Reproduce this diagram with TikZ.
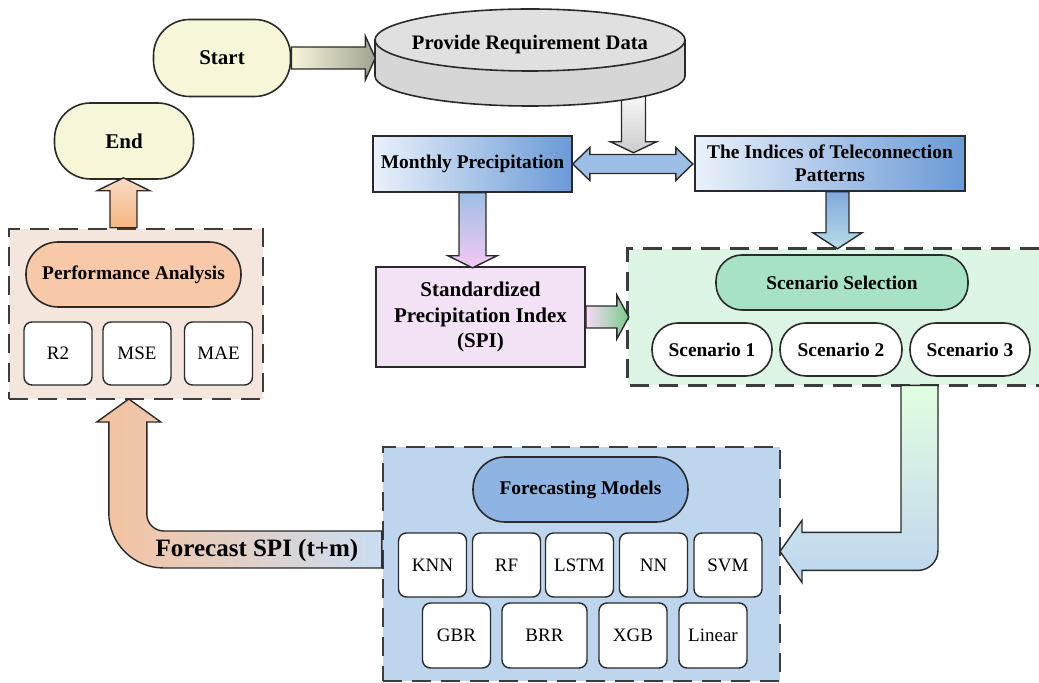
\documentclass[tikz,border=0pt]{standalone}
\usepackage{fontspec}
\setmainfont{Liberation Serif}
\usetikzlibrary{calc}

\definecolor{edge}{HTML}{2A2A2A}
\definecolor{dashgray}{HTML}{3C3C3C}
\definecolor{termfill}{HTML}{F8F6D8}
\definecolor{startarr}{HTML}{A2A292}
\definecolor{monthlight}{HTML}{EAF1FA}
\definecolor{monthdark}{HTML}{6A9AD6}
\definecolor{arrblue}{HTML}{9DBFE6}
\definecolor{telearr}{HTML}{B8DCE8}
\definecolor{spifill}{HTML}{F3E1F5}
\definecolor{spipink}{HTML}{F5C8F2}
\definecolor{scenbg}{HTML}{DDF5E4}
\definecolor{selfill}{HTML}{A8E2C4}
\definecolor{arrgreen}{HTML}{7ACC8C}
\definecolor{forebg}{HTML}{BED5EE}
\definecolor{fmfill}{HTML}{8DB4E2}
\definecolor{perfbg}{HTML}{F4E6DC}
\definecolor{perffill}{HTML}{F8C9A8}
\definecolor{peach}{HTML}{F6C29E}
\definecolor{orangearr}{HTML}{F6B680}

\begin{document}
\begin{tikzpicture}[x=0.5pt,y=-0.5pt,
  bold/.style={font=\bfseries\fontsize{9.7}{11.5}\selectfont},
  term/.style={draw=edge,line width=0.8pt,fill=termfill,rounded corners=18pt,
    minimum width=68.5pt,minimum height=38.5pt,font=\bfseries\fontsize{10.5}{12}\selectfont},
  databox/.style={draw=edge,line width=0.8pt,bold,align=center,inner sep=2pt,
    left color=monthlight,right color=monthdark},
  pill/.style={draw=edge,line width=0.8pt,bold,rounded corners=13pt},
  small/.style={draw=edge,line width=0.7pt,fill=white,rounded corners=4pt,
    minimum width=34pt,minimum height=32pt,font=\fontsize{9.5}{11}\selectfont},
  group/.style={draw=dashgray,line width=1.2pt,dash pattern=on 9.5pt off 5pt},
  blk/.style={draw=edge,line width=0.7pt}]
\useasboundingbox (0,0) rectangle (1039,683);

% groups
\node (pbox) [group,fill=perfbg,minimum width=127pt,minimum height=85pt] at (136,314) {};
\node (fbox) [group,fill=forebg,minimum width=198.5pt,minimum height=117pt] at (581.5,564) {};
\node (sbox) [fill=scenbg,minimum width=205.5pt,minimum height=68pt,inner sep=0pt] at (833.5,317) {};
\draw [group] (sbox.north east) -- (sbox.north west) -- (sbox.south west) -- (sbox.south east);

% start, end, data
\node (start) [term] at (222,58) {Start};
\node (end) [term,minimum width=69.5pt,minimum height=38pt] at (124,141) {End};

\node (month) [databox,minimum width=99.5pt,minimum height=28pt] at (472.5,164) {Monthly Precipitation};
\node (tele) [databox,minimum width=135pt,minimum height=27.5pt] at (830,163.5) {The Indices of Teleconnection\\Patterns};
\coordinate (mid) at ($(month.east)!0.5!(tele.west)$);

\draw [blk,top color=gray!4,bottom color=gray!40] ($(mid)+(-12,-72)$) -- ++(0,50) -- ++(-11,0) -- ++(23,11) -- ++(23,-11) -- ++(-11,0) -- ++(0,-50) -- cycle;

\fill [gray!32] (375,40) -- (375,76) arc[start angle=180,end angle=360,x radius=77.5pt,y radius=15pt] -- (685,40) -- cycle;
\draw [edge,line width=0.8pt] (375,40) -- (375,76) arc[start angle=180,end angle=360,x radius=77.5pt,y radius=15pt] -- (685,40);
\draw [edge,line width=0.8pt,fill=gray!24] (530,40) ellipse[x radius=77.5pt,y radius=15.5pt];
\node (data) [font=\bfseries\fontsize{10.3}{12}\selectfont] at (530,45) {Provide Requirement Data};

\draw [blk,left color=termfill,right color=startarr] ([yshift=5.5pt]start.east) -- ++(74,0) -- ++(0,-11) -- ++(10,22) -- ++(-10,22) -- ++(0,-11) -- ++(-74,0) -- cycle;

\draw [blk,left color=arrblue,middle color=white!85!arrblue,right color=arrblue] (month.east) -- ++(17,-16.5) -- ++(0,7) -- ++(86,0) -- ++(0,-7) -- ++(17,16.5) -- ++(-17,16.5) -- ++(0,-7) -- ++(-86,0) -- ++(0,7) -- cycle;

% SPI
\node (spi) [draw=edge,line width=0.8pt,fill=spifill,align=center,minimum width=104.5pt,minimum height=50pt,
  font=\bfseries\fontsize{10.5}{12.75}\selectfont] at (480.5,317) {Standardized\\Precipitation Index\\(SPI)};

\draw [blk,top color=arrblue,bottom color=spipink] ([xshift=-6.75pt]month.south) -- ++(0,63) -- ++(-11,0) -- ++(24.5,12) -- ++(24.5,-12) -- ++(-11,0) -- ++(0,-63) -- cycle;
\draw [blk,top color=monthdark!85,bottom color=telearr] ([xshift=-2pt]tele.south) -- ++(0,41) -- ++(-13,0) -- ++(24.5,16) -- ++(24.5,-16) -- ++(-13,0) -- ++(0,-41) -- cycle;
\draw [blk,left color=spipink!70,right color=arrgreen] ([yshift=5.5pt]spi.east) -- ++(31,0) -- ++(0,-11) -- ++(12,22) -- ++(-12,22) -- ++(0,-11) -- ++(-31,0) -- cycle;

% scenarios
\node (sel) [pill,fill=selfill,minimum width=126pt,minimum height=27.5pt] at (842,282.5) {Scenario Selection};
\node (sc1) [pill,fill=white,minimum width=60pt,minimum height=26.5pt] at (712,349.5) {Scenario 1};
\node (sc2) [pill,fill=white,minimum width=61pt,minimum height=26.5pt] at (841,349.5) {Scenario 2};
\node (sc3) [pill,fill=white,minimum width=60pt,minimum height=26.5pt] at (970,349.5) {Scenario 3};

% performance
\node (perf) [pill,fill=perffill,rounded corners=16pt,minimum width=107.5pt,minimum height=32.5pt] at (133.5,274.5) {Performance Analysis};
\node (r2) [small,minimum height=31.5pt] at (58,353.5) {R2};
\node (mse) [small,minimum height=31.5pt] at (137,353.5) {MSE};
\node (mae) [small,minimum height=31.5pt] at (218.5,353.5) {MAE};

% models
\node (fm) [pill,fill=fmfill,rounded corners=16pt,minimum width=107.5pt,minimum height=32.5pt] at (580.5,489.5) {Forecasting Models};
\node (knn) [small] at (432.5,565) {KNN};
\node (rf) [small] at (506.5,565) {RF};
\node (lstm) [small] at (579.5,565) {LSTM};
\node (nn) [small] at (653.5,565) {NN};
\node (svm) [small] at (728,565) {SVM};
\node (gbr) [small,minimum height=32.5pt] at (456.5,635.5) {GBR};
\node (brr) [small,minimum width=42.5pt,minimum height=32.5pt] at (544.5,635.5) {BRR};
\node (xgb) [small,minimum height=32.5pt] at (633,635.5) {XGB};
\node (lin) [small,minimum height=32.5pt] at (713,635.5) {Linear};

% bent arrows
\draw [blk,top color=green!12!white,bottom color=forebg] ([xshift=33.75pt]sbox.south) -- ++(0,147) -- ++(-99,0) -- ++(0,-12) -- ++(-22,31) -- ++(22,31) -- ++(0,-12) -- ++(116,0) arc[start angle=-90,end angle=0,radius=10pt] -- ++(0,-165) -- cycle;

\draw [blk,left color=peach,right color=forebg!80!white] ([yshift=16.5pt]fbox.west) -- ++(-218,0) arc[start angle=270,end angle=180,radius=8.5pt] -- ++(0,-92) -- ++(14,0) -- ++(-32,-23) -- ++(-32,23) -- ++(12,0) -- ++(0,91) arc[start angle=180,end angle=270,radius=27.5pt] -- ++(218,0) -- cycle;
\node (fcast) [font=\bfseries\fontsize{12.5}{14}\selectfont] at (257,550) {Forecast SPI (t+m)};

\draw [blk,top color=peach!60!white,bottom color=orangearr] ([xshift=-13pt]pbox.north) -- ++(0,-37) -- ++(-13,0) -- ++(26.5,-13) -- ++(26.5,13) -- ++(-13,0) -- ++(0,37) -- cycle;
\end{tikzpicture}
\end{document}
